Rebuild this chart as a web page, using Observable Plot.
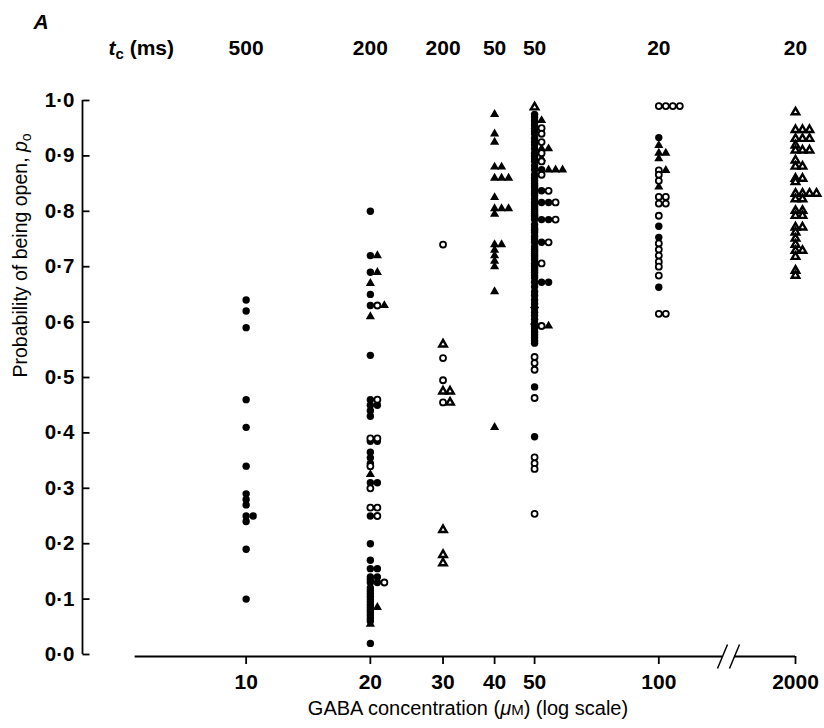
<!DOCTYPE html>
<html><head><meta charset="utf-8">
<script src="https://cdn.jsdelivr.net/npm/d3@7"></script>
<script src="https://cdn.jsdelivr.net/npm/@observablehq/plot@0.6"></script>
<style>body{margin:0;background:#fff}
.num text, text.num{font-family:'Liberation Sans',Arial,sans-serif;font-weight:700}
</style>
</head><body><div id="chart"></div>
<script>
// ---- data ----
const concentrations = [10, 20, 30, 40, 50, 100, 2000];
const xTickLabels = ["10", "20", "30", "40", "50", "100", "2000"];
const tcLabels = ["500", "200", "200", "50", "50", "20", "20"];
const yTicks = [0, 0.1, 0.2, 0.3, 0.4, 0.5, 0.6, 0.7, 0.8, 0.9, 1.0];

const filledCircles = {
  10: [0.64, 0.62, 0.59, 0.46, 0.41, 0.34, 0.29, 0.28, 0.27, 0.25, 0.25, 0.24, 0.19, 0.10],
  20: [0.80, 0.72, 0.69, 0.65, 0.63, 0.54, 0.46, 0.45, 0.45, 0.44, 0.43, 0.385, 0.385, 0.365, 0.355, 0.345,
       0.31, 0.31, 0.25, 0.20, 0.17, 0.155, 0.155, 0.14, 0.14, 0.135, 0.13, 0.13, 0.12, 0.115, 0.11, 0.105,
       0.10, 0.095, 0.09, 0.085, 0.08, 0.075, 0.07, 0.065, 0.06, 0.02],
  50: [0.975, 0.97, 0.964, 0.96, 0.955, 0.95, 0.945, 0.94, 0.932, 0.925, 0.92, 0.913, 0.905, 0.90, 0.895, 0.89,
       0.882, 0.875, 0.875, 0.866, 0.86, 0.855, 0.85, 0.846, 0.843, 0.837, 0.837, 0.832, 0.828, 0.822, 0.816,
       0.816, 0.816, 0.812, 0.808, 0.804, 0.80, 0.796, 0.793, 0.79, 0.785, 0.785, 0.785,
       0.776, 0.77, 0.766, 0.762, 0.755, 0.75, 0.744, 0.744, 0.736, 0.732, 0.728, 0.724, 0.72, 0.716, 0.713,
       0.706, 0.702, 0.698, 0.694, 0.69, 0.685, 0.68, 0.672, 0.672, 0.672, 0.664, 0.655, 0.648, 0.64, 0.633,
       0.625, 0.618, 0.612, 0.605, 0.598, 0.593, 0.588, 0.582, 0.577, 0.572, 0.567, 0.562, 0.483, 0.393],
  100: [0.933, 0.773, 0.753, 0.663]
};
const openCircles = {
  20: [0.63, 0.46, 0.39, 0.39, 0.34, 0.30, 0.265, 0.265, 0.25, 0.13],
  30: [0.74, 0.535, 0.495, 0.455],
  50: [0.95, 0.94, 0.925, 0.905, 0.89, 0.866, 0.837, 0.816, 0.785, 0.744, 0.706, 0.593,
       0.537, 0.526, 0.514, 0.463, 0.356, 0.345, 0.335, 0.254],
  100: [0.99, 0.99, 0.99, 0.99, 0.874, 0.866, 0.855, 0.826, 0.826, 0.814, 0.814, 0.792,
        0.742, 0.731, 0.72, 0.709, 0.70, 0.684, 0.615, 0.615]
};
const filledTriangles = {
  20: [0.72, 0.69, 0.67, 0.63, 0.61, 0.325, 0.085, 0.055],
  40: [0.975, 0.94, 0.925, 0.88, 0.88, 0.86, 0.86, 0.86, 0.825, 0.805, 0.805, 0.805, 0.795,
       0.74, 0.74, 0.73, 0.72, 0.71, 0.70, 0.655, 0.41],
  50: [0.964, 0.913, 0.913, 0.895, 0.875, 0.875, 0.875, 0.63, 0.60, 0.593],
  100: [0.919, 0.905, 0.905, 0.895, 0.874, 0.844]
};
const openTriangles = {
  30: [0.56, 0.475, 0.475, 0.455, 0.225, 0.18, 0.165],
  50: [0.988],
  2000: [0.979, 0.947, 0.947, 0.947, 0.931, 0.931, 0.931, 0.919, 0.91, 0.91, 0.91, 0.892, 0.881, 0.881,
         0.859, 0.859, 0.853, 0.832, 0.832, 0.832, 0.832, 0.822, 0.822, 0.801, 0.801, 0.792, 0.792,
         0.771, 0.771, 0.762, 0.751, 0.74, 0.729, 0.729, 0.718, 0.693, 0.684]
};

// ---- layout / scale set-up ----
const W = 824, H = 728;
const mL = 82, mR = 29, mT = 100, mB = 74;
const xMin = 4.013, xMax = 214.4;            // log-scale domain (axis is broken before 2000)
const brokenAt = {2000: xMax};               // 2000 µM is drawn just after the axis break
const pos = c => brokenAt[c] ?? c;
const pxPerDecade = (W - mL - mR) / Math.log10(xMax / xMin);
const shiftPx = (c, px) => c * Math.pow(10, px / pxPerDecade);
const slotPx = 7;

// identical readings are set side by side, as in the original
const counts = new Map();
const rows = [];
for (const [kind, set] of [["fc", filledCircles], ["oc", openCircles], ["ft", filledTriangles], ["ot", openTriangles]]) {
  for (const c of Object.keys(set).map(Number)) {
    for (const p of set[c]) {
      const key = c + "|" + p;
      const k = counts.get(key) || 0;
      counts.set(key, k + 1);
      rows.push({kind, conc: c, p, x: shiftPx(pos(c), k * slotPx)});
    }
  }
}
const of = k => rows.filter(d => d.kind === k);

const txtFont = "'Liberation Sans', Arial, sans-serif";
const tickLabelMap = new Map(concentrations.map((c, i) => [pos(c), xTickLabels[i]]));

const axisStart = shiftPx(10, -111);
const breakLeft = shiftPx(xMax, -73), breakRight = shiftPx(xMax, -61);
const slashes = [-73, -61].map(o => ({x1: shiftPx(xMax, o - 5), x2: shiftPx(xMax, o + 5)}));
const pyPx = 1 / (H - mT - mB);

const chart = Plot.plot({
  width: W, height: H,
  marginLeft: mL, marginRight: mR, marginTop: mT, marginBottom: mB,
  x: {type: "log", domain: [xMin, xMax], axis: null},
  y: {domain: [0, 1], axis: null},
  style: {background: "white", color: "black", overflow: "visible"},
  marks: [
    // y axis
    Plot.ruleX([xMin], {y1: 0, y2: 1, strokeWidth: 1.8}),
    Plot.link(yTicks, {x1: xMin, x2: shiftPx(xMin, 7), y1: d => d, y2: d => d, strokeWidth: 1.8}),
    Plot.text(yTicks, {x: xMin, y: d => d, text: d => d.toFixed(1).replace(".", "·"), textAnchor: "end", dx: -8,
      fontSize: 20.5, className: "num"}),
    // x axis (broken)
    Plot.ruleY([0], {x1: axisStart, x2: breakLeft, strokeWidth: 1.8, dy: 2}),
    Plot.ruleY([0], {x1: breakRight, x2: xMax, strokeWidth: 1.8, dy: 2}),
    Plot.link(slashes, {x1: "x1", x2: "x2", y1: -12 * pyPx, y2: 12 * pyPx, strokeWidth: 1.5, dy: 2}),
    Plot.axisX(concentrations.map(pos), {anchor: "bottom", tickSize: 8, tickPadding: 10, strokeWidth: 1.8, dy: 2,
      tickFormat: d => tickLabelMap.get(d), label: null, fontSize: 21, className: "num"}),
    // t_c row
    Plot.text(concentrations, {x: pos, text: (d, i) => tcLabels[i], frameAnchor: "top", dy: -60,
      fontSize: 21, className: "num"}),
    Plot.text(["TC_LABEL"], {frameAnchor: "top-left", dx: 26, dy: -60, textAnchor: "start",
      fontSize: 21, className: "num"}),
    Plot.text(["A"], {frameAnchor: "top-left", dx: -49, dy: -86, textAnchor: "start",
      fontSize: 21, fontWeight: "bold", fontStyle: "italic", fontFamily: txtFont}),
    // axis titles
    Plot.text(["YTITLE"], {frameAnchor: "left", dx: -62, rotate: -90, fontSize: 19.5, fontFamily: txtFont}),
    Plot.text(["XTITLE"], {frameAnchor: "bottom", dx: 29, dy: 60, fontSize: 20, fontFamily: txtFont}),
    // data
    Plot.dot(of("fc"), {x: "x", y: "p", r: 3.7, fill: "black"}),
    Plot.dot(of("ft"), {x: "x", y: "p", symbol: "triangle", r: 3.4, fill: "black"}),
    Plot.dot(of("oc"), {x: "x", y: "p", r: 3.0, fill: "white", stroke: "black", strokeWidth: 1.8}),
    Plot.dot(of("ot"), {x: "x", y: "p", symbol: "triangle", r: 2.8, fill: "white", stroke: "black", strokeWidth: 2.4})
  ]
});

// rich text for titles
const svg = d3.select(chart);
svg.selectAll("text").each(function () {
  const t = d3.select(this);
  const s = this.textContent;
  if (s === "TC_LABEL") {
    t.text(null);
    t.append("tspan").attr("font-style", "italic").text("t");
    t.append("tspan").attr("font-size", 15).attr("dy", 4).text("c");
    t.append("tspan").attr("dy", -4).text(" (ms)");
  } else if (s === "YTITLE") {
    t.text(null);
    t.append("tspan").text("Probability of being open, ");
    t.append("tspan").attr("font-style", "italic").text("p");
    t.append("tspan").attr("font-size", 14).attr("dy", 4).text("o");
  } else if (s === "XTITLE") {
    t.text(null);
    t.append("tspan").text("GABA concentration (");
    t.append("tspan").attr("font-style", "italic").text("μ");
    t.append("tspan").attr("font-size", 15).text("M");
    t.append("tspan").text(") (log scale)");
  }
});
document.getElementById("chart").appendChild(chart);
</script>
</body></html>
